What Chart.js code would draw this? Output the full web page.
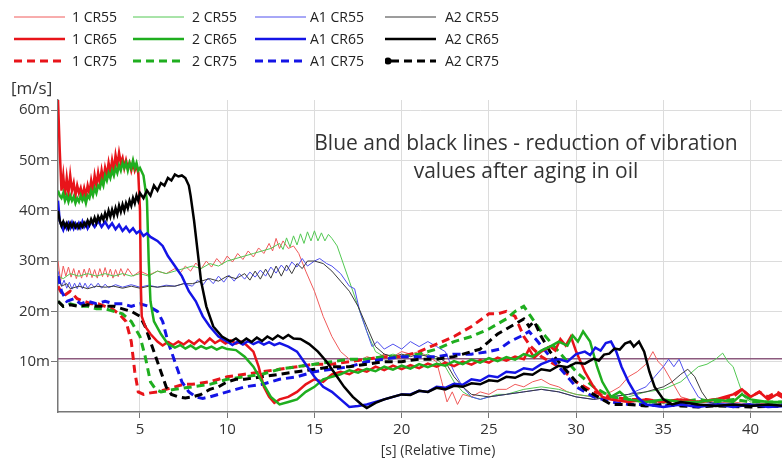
<!DOCTYPE html>
<html>
<head>
<meta charset="utf-8">
<script src="https://cdn.jsdelivr.net/npm/chart.js@4/dist/chart.umd.min.js"></script>
<style>
  html, body { margin: 0; padding: 0; background: #fff; }
  #wrap { position: relative; width: 782px; height: 462px; overflow: hidden; font-family: "Open Sans", sans-serif; color: #333; }
  #chart { position: absolute; left: 0; top: 0; }
  .lg { position: absolute; font-size: 14px; line-height: 16px; white-space: nowrap; color: #222; }
  .lbl { position: absolute; white-space: nowrap; }
  #note { position: absolute; left: 276px; top: 128px; width: 500px; text-align: center; font-size: 21px; line-height: 28px; color: #333; }
</style>
</head>
<body>
<div id="wrap">
  <canvas id="chart" width="782" height="462"></canvas>
  <div id="legend"></div>
  <div class="lbl" style="left:11px; top:76px; font-size:17px;">[m/s]</div>
  <div class="lbl" style="left:338px; top:440px; width:200px; text-align:center; font-size:14px;">[s] (Relative Time)</div>
  <div id="note">Blue and black lines - reduction of vibration<br>values after aging in oil</div>
</div>
<script>
const xTicks = [5, 10, 15, 20, 25, 30, 35, 40];
const yTicks = [10, 20, 30, 40, 50, 60];
const refLevel = 10.6;

// [time s, velocity mm/s]
const r55 = [[0.3,30],[0.45,26],[0.6,29],[0.75,27],[0.9,28.8],[1.05,26.8],[1.2,28.5],[1.35,26.5],[1.5,28.2],[1.65,26.6],[1.8,28.4],[1.95,26.8],[2.1,28.6],[2.25,26.7],[2.4,28.3],[2.55,26.6],[2.7,28.5],[2.85,26.9],[3.0,28.7],[3.15,26.8],[3.3,28.4],[3.45,26.6],[3.6,28.3],[3.75,26.9],[3.9,28.5],[4.1,27],[4.3,28.5],[4.6,27],[5.0,28],[5.5,27.2],[6,28],[6.5,27.5],[7,28.5],[7.3,27.6],[7.6,29],[7.9,28],[8.2,29.6],[8.5,28.4],[8.8,30],[9.1,28.8],[9.4,30.5],[9.7,29.3],[10,31],[10.3,29.8],[10.6,31.5],[10.9,30.3],[11.2,32],[11.5,30.8],[11.8,32.6],[12.1,31.5],[12.4,33.5],[12.6,32],[12.8,34.5],[13.0,32.5],[13.2,34],[13.5,32.5],[13.8,33],[14.1,31.5],[14.5,28],[15,24],[15.5,19],[16,15],[16.5,12],[17,10.5],[17.5,10],[18,11],[18.5,10.5],[19,11.5],[19.5,11],[20,12],[20.5,11.5],[21,12],[21.5,11],[22,10],[22.3,6],[22.6,2],[22.9,4],[23.2,1.5],[23.5,3.5],[24,3],[24.5,4],[25,3.5],[25.5,4.5],[26,4.5],[26.5,5.5],[27,5],[27.5,6],[28,6.5],[28.5,5.5],[29,5],[29.5,4],[30,3.5],[31,3],[32,4],[32.5,5],[33,7],[33.5,8],[34,9.5],[34.4,12],[34.7,10],[35,9],[35.5,6],[36,3],[36.5,2.5],[37,2],[38,1.8],[39,2],[40,1.5],[41,1.8],[42,1.5]];
const g55 = [[0.3,27],[0.6,26.5],[1,27.5],[1.5,27],[2,27.5],[2.5,27],[3,27.5],[3.5,27],[4,27.5],[4.5,27],[5,27.5],[5.5,27],[6,28],[6.5,27.5],[7,28],[7.5,28.5],[8,29],[8.5,28.5],[9,29.5],[9.5,29],[10,30],[10.5,30.5],[11,31],[11.5,31.5],[12,32],[12.5,32.5],[13,33.5],[13.2,32.3],[13.4,34.6],[13.6,32.8],[13.8,35],[14.0,33.2],[14.2,35.4],[14.4,33.5],[14.6,35.8],[14.8,34],[15.0,36],[15.2,34],[15.4,35.6],[15.6,34],[15.8,35.3],[16,34.5],[16.3,33],[16.6,30],[17,26],[17.5,21],[18,16],[18.5,12],[19,11],[19.5,11.5],[20,11],[20.5,11.5],[21,11],[21.5,11.5],[22,10.5],[22.5,9],[23,6],[23.5,4],[24,3],[24.5,2.5],[25,3],[25.5,3.5],[26,3.5],[27,4.5],[28,5],[29,4.5],[30,3.5],[31,3],[32,2.5],[33,3],[34,4],[35,4.5],[36,6],[36.5,7.5],[37,9],[37.5,9.5],[38,10.5],[38.4,11.7],[38.7,10],[39,9],[39.3,6],[39.6,3],[40,2],[41,1.8],[42,1.5]];
const b55 = [[0.3,28],[0.5,25],[0.65,26.2],[0.8,24.6],[0.95,25.8],[1.1,24.4],[1.25,25.6],[1.4,24.5],[1.55,25.7],[1.7,24.5],[1.85,25.6],[2.0,24.6],[2.2,25.5],[2.4,24.7],[2.6,25.6],[2.8,24.6],[3.0,25.4],[3.2,24.7],[3.6,25.3],[4,24.8],[4.5,25.3],[5,24.8],[5.5,25.2],[6,24.8],[6.5,25.2],[7,25],[7.5,25.5],[8,25],[8.3,26.2],[8.6,25.2],[8.9,26.6],[9.2,25.5],[9.5,27],[9.8,25.8],[10.1,27.2],[10.4,26],[10.7,27.5],[11,26.4],[11.3,27.8],[11.6,26.8],[11.9,28.2],[12.2,27],[12.5,28.8],[12.8,27.6],[13.1,29.2],[13.4,28],[13.7,29.8],[14,28.8],[14.3,30.5],[14.6,29],[15,30],[15.3,30.5],[15.7,29.5],[16,29],[16.5,27.5],[17,25],[17.3,24.5],[17.6,20],[18,16],[18.3,13],[18.6,14],[19,12.5],[19.5,13.5],[20,12.5],[20.5,14],[21,13],[21.5,14],[22,13],[22.5,12],[23,8],[23.5,5],[24,3],[24.5,2.5],[25,3],[26,3.5],[27,4],[28,4.5],[29,4],[30,3],[31,2.5],[32,3],[33,3.5],[34,5],[34.5,7],[35,9],[35.3,10.5],[35.6,9],[35.9,10.5],[36.2,8],[36.5,6],[37,3],[37.5,2],[38,1.8],[40,1.5],[42,1.5]];
const k55 = [[0.3,27],[0.5,25],[0.8,25.5],[1,24.5],[1.5,25],[2,24.5],[2.5,25],[3,24.8],[3.5,25],[4,24.6],[4.5,25],[5,24.6],[5.5,25],[6,24.8],[6.5,25],[7,25],[7.5,25.5],[8,25.5],[8.5,26],[9,26.5],[9.5,26],[10,27],[10.5,26.5],[11,27.5],[11.3,26.2],[11.6,28],[11.9,26.4],[12.2,28.4],[12.5,26.6],[12.8,29],[13.1,27],[13.4,29.2],[13.7,27.5],[14,29.5],[14.3,28.5],[14.6,30],[15,30],[15.5,29.5],[16,28],[16.5,26],[17,24],[17.5,21],[18,17],[18.5,13],[19,11.5],[19.5,11],[20,11.5],[20.5,11],[21,11.5],[21.5,11],[22,11],[22.5,10],[23,7],[23.5,5],[24,3.5],[25,3],[26,3.5],[27,4],[28,4.5],[29,4],[30,3],[31,2.5],[32,3],[33,3.5],[34,4],[35,5],[35.5,6],[36,7.5],[36.4,8.5],[36.8,7],[37.2,4],[37.6,2],[38,1.5],[40,1.2],[42,1.2]];

const r65 = [[0.3,62],[0.4,52],[0.5,44],[0.6,47],[0.7,43],[0.8,46.5],[0.9,43.5],[1.0,47],[1.1,44],[1.2,45.5],[1.3,43],[1.4,45],[1.5,43.5],[1.6,44.5],[1.7,42.8],[1.8,44.5],[1.9,43],[2.0,45],[2.1,43.5],[2.2,46],[2.3,44],[2.4,47],[2.5,45],[2.6,47.5],[2.7,45.5],[2.8,48],[2.9,46],[3.0,48.5],[3.1,47],[3.2,49.5],[3.3,47.5],[3.4,50],[3.5,48],[3.6,51],[3.7,49],[3.8,51.5],[3.9,49.5],[4.0,50.5],[4.1,48.5],[4.2,50],[4.3,48.5],[4.4,49.5],[4.5,48],[4.6,49.5],[4.7,48],[4.8,49],[4.9,47.5],[5.0,40],[5.05,25],[5.1,19],[5.3,17],[5.6,15.5],[6,14],[6.3,13.2],[6.6,13.9],[6.9,13.3],[7.2,14],[7.5,13.4],[7.8,14.2],[8.1,13.5],[8.4,14.4],[8.7,13.6],[9,14.6],[9.3,13.7],[9.6,14.3],[9.9,13.6],[10.2,14.2],[10.5,13.6],[10.8,14],[11.1,13.3],[11.5,12],[11.8,9],[12.1,5],[12.4,3],[12.7,1.8],[13,2.5],[13.5,3],[14,4],[14.5,5.5],[15,6.5],[15.5,6],[16,7.5],[16.5,8],[17,7.5],[17.5,8.5],[18,8],[18.5,9],[19,8.3],[19.5,9.2],[20,8.5],[20.5,9.3],[21,8.7],[21.5,9.6],[22,9],[22.5,9.8],[23,9.1],[23.5,10],[24,9.4],[24.5,10.3],[25,9.8],[25.5,10.8],[26,10.2],[26.5,11],[27,10.5],[27.3,12.5],[27.6,10.8],[28,12],[28.5,13],[28.8,12.2],[29.1,14.5],[29.4,13.2],[29.7,15],[30,12],[30.5,8],[31,5],[31.5,3],[32,2.5],[33,2],[34,2.5],[35,2],[36,2.5],[37,2],[38,2.5],[39,3.5],[39.5,4.5],[40,3],[40.5,4],[41,2.5],[41.5,3.5],[42,2.5]];
const g65 = [[0.3,44],[0.4,43],[0.5,42.5],[0.6,43.5],[0.7,42],[0.8,43],[0.9,41.8],[1.0,43],[1.1,42],[1.2,42.8],[1.3,41.5],[1.4,42.5],[1.5,41.8],[1.6,43],[1.7,42],[1.8,42.8],[1.9,41.5],[2.0,43],[2.1,42.5],[2.2,44],[2.3,43],[2.4,44.5],[2.5,43.5],[2.6,45],[2.7,44.5],[2.8,46],[2.9,45],[3.0,47],[3.1,46],[3.2,47.5],[3.3,46.5],[3.4,48],[3.5,47],[3.6,48.5],[3.7,47.5],[3.8,49],[3.9,48],[4.0,49.5],[4.1,48.5],[4.2,49.5],[4.3,48],[4.4,49.5],[4.5,48.5],[4.6,50],[4.7,48.5],[4.8,49.5],[4.9,48],[5.0,48.5],[5.2,47],[5.4,42],[5.5,30],[5.6,22],[5.8,18],[6.2,15.5],[6.6,13.5],[7,12.8],[7.3,13.3],[7.6,12.6],[7.9,13.2],[8.2,12.5],[8.5,13.1],[8.8,12.6],[9.1,13],[9.4,12.4],[9.7,12.9],[10,12.5],[10.5,12.3],[11,11],[11.5,9],[12,6],[12.5,3],[13,1.5],[13.5,2],[14,2.5],[14.5,4],[15,5],[15.5,6.5],[16,7],[16.5,7.5],[17,8.3],[17.5,7.8],[18,8.6],[18.5,8.1],[19,9],[19.5,8.4],[20,9.2],[20.5,8.6],[21,9.5],[21.5,8.9],[22,9.6],[22.5,9.2],[23,10.1],[23.5,9.5],[24,10.4],[24.5,9.8],[25,10.7],[25.5,10.1],[26,10.9],[26.5,10.4],[27,11.5],[27.5,11],[28,12.2],[28.5,13],[29,14],[29.5,13.2],[29.8,15.2],[30.1,14],[30.4,16],[30.8,14],[31.2,9],[31.5,6],[32,3],[32.5,4],[33,2.5],[34,2],[35,2.5],[36,2],[37,2],[38,2.5],[39,2],[39.5,3.5],[40,2.5],[41,2],[42,2]];
const b65 = [[0.3,42],[0.4,38],[0.5,37],[0.6,36.2],[0.7,37.3],[0.8,36.5],[0.9,37.5],[1.0,36.6],[1.1,37.6],[1.2,36.5],[1.3,37.4],[1.4,36.6],[1.5,37.5],[1.6,36.7],[1.7,37.8],[1.8,36.8],[1.9,37.5],[2.0,36.5],[2.2,37.8],[2.4,36.8],[2.6,38],[2.8,36.8],[3.0,37.8],[3.2,36.6],[3.4,37.5],[3.6,36.3],[3.8,37.2],[4.0,36],[4.2,36.8],[4.4,35.8],[4.6,36.5],[4.8,35.5],[5.0,36],[5.2,35],[5.4,35.5],[5.6,34.8],[6,34],[6.3,33],[6.6,31],[7,29],[7.4,27],[7.8,24],[8.2,22],[8.6,19],[9,17],[9.5,15],[10,14],[10.3,13.3],[10.6,14],[10.9,13.4],[11.2,14.1],[11.5,13.5],[11.8,14],[12.1,13.4],[12.4,13.9],[12.7,13.3],[13,13.7],[13.5,13],[14,12],[14.5,9.5],[15,7],[15.5,5],[16,4],[16.5,2.5],[17,1],[17.5,1.2],[18,1.5],[18.5,2],[19,2.5],[19.5,3],[20,3.5],[20.5,3.5],[21,4.2],[21.5,4],[22,5],[22.5,4.8],[23,5.6],[23.5,5.4],[24,6.5],[24.5,6.2],[25,7.2],[25.5,6.9],[26,8],[26.5,7.8],[27,8.7],[27.5,8.4],[28,9.5],[28.5,10.2],[29,10.5],[29.5,10],[30,11.5],[30.5,12],[30.8,11.3],[31.1,12.8],[31.4,12.2],[31.7,13.7],[32,14],[32.3,12],[32.6,9],[33,6],[33.5,3],[34,1.5],[35,1],[36,1.5],[37,1],[38,1.5],[39,1],[40,1.5],[41,1],[42,1.2]];
const k65 = [[0.3,40],[0.4,38],[0.5,37],[0.6,37.8],[0.7,36.8],[0.8,37.5],[0.9,36.5],[1.0,37.5],[1.1,36.8],[1.2,37.5],[1.3,36.7],[1.4,37.3],[1.5,36.6],[1.6,37.4],[1.7,36.8],[1.8,37.6],[1.9,37],[2.0,38],[2.1,37.2],[2.2,38.3],[2.3,37.5],[2.4,38.6],[2.5,37.6],[2.6,38.8],[2.7,38],[2.8,39],[2.9,38.2],[3.0,39.5],[3.1,38.5],[3.2,40],[3.3,38.8],[3.4,40.2],[3.5,39],[3.6,40.5],[3.7,39.3],[3.8,41],[3.9,39.8],[4.0,41.2],[4.1,40],[4.2,41.5],[4.3,40.5],[4.4,42],[4.5,41],[4.6,42.5],[4.7,41.5],[4.8,43],[4.9,42],[5.0,43.5],[5.2,42.5],[5.4,44],[5.6,43],[5.8,45],[6.0,44],[6.2,45.5],[6.4,45],[6.6,46.5],[6.8,46],[7.0,47.2],[7.2,46.8],[7.4,47],[7.6,46.5],[7.8,45],[7.9,43],[8.1,38],[8.3,32],[8.5,26],[8.8,21],[9.2,17],[9.7,15],[10.2,14],[10.5,14.6],[10.8,13.8],[11.1,14.6],[11.4,13.9],[11.7,14.8],[12,14.1],[12.3,15],[12.6,14.4],[12.9,15.2],[13.2,14.6],[13.5,15.3],[13.8,14.6],[14.2,14.5],[14.7,13.5],[15.2,12],[15.7,10],[16.2,7.5],[16.7,5],[17.2,3],[17.7,1.5],[18,0.8],[18.5,1.8],[19,2.5],[19.5,3],[20,3.5],[20.5,3.4],[21,4.2],[21.5,4],[22,4.8],[22.5,4.5],[23,5.2],[23.5,5],[24,5.7],[24.5,5.5],[25,6.3],[25.5,6.1],[26,7],[26.5,6.8],[27,7.6],[27.5,7.4],[28,8.5],[28.5,8.2],[29,9.2],[29.5,8.9],[30,9.8],[30.5,9.6],[31,10.6],[31.3,10.2],[31.6,11.4],[31.9,11.6],[32.2,12.6],[32.5,12.4],[32.8,13.6],[33.1,14],[33.3,13],[33.6,14],[33.9,12],[34.2,8],[34.5,5],[35,2.5],[35.5,1.5],[36,2],[37,1.5],[38,1.2],[39,1.5],[40,1.2],[41,1.5],[42,1.2]];

const r75 = [[0.3,25],[0.6,23],[1,24],[1.4,22.5],[1.8,22],[2.2,21.5],[2.6,21.5],[3,21],[3.4,20.5],[3.8,19.5],[4.2,18],[4.5,14],[4.7,8],[4.9,4],[5.2,3.5],[5.6,3.8],[6,4],[6.5,4.5],[7,5],[7.5,5.5],[8,5.5],[9,6],[10,7],[11,7.5],[12,8],[13,8.5],[14,9],[15,9.5],[16,9.5],[17,10],[18,10.5],[19,11],[20,11],[21,12],[22,13.5],[23,15],[24,17],[25,19.5],[25.5,19.5],[26,20],[26.5,19],[27,15],[27.4,13],[28,11],[29,9],[30,6],[31,4],[32,3],[33,2.5],[34,2.5],[35,2],[36,2.5],[37,2],[38,2.5],[39,3],[39.5,4.5],[40,3],[40.5,4],[41,3],[41.5,4],[42,3]];
const g75 = [[0.3,22],[0.6,21],[1,21.5],[1.5,21],[2,21],[2.5,20.5],[3,20.5],[3.5,20],[4,19.5],[4.5,18],[5,15],[5.3,11],[5.6,6],[5.9,4.5],[6.2,4],[6.5,4.2],[7,4.5],[8,5],[9,5.5],[10,6.5],[11,7],[12,7.5],[13,8.5],[14,9],[15,9.5],[16,10],[17,10.5],[18,10.5],[19,11],[20,11],[21,11.5],[22,12.5],[23,14],[24,15],[25,16.5],[26,18.5],[26.5,20],[27,21],[27.4,19],[28,16],[28.5,14],[29,12],[30,8],[31,5],[32,3],[33,2.5],[34,2],[35,2],[36,2],[37,2.5],[38,2],[39,2.5],[40,2],[41,2],[42,2]];
const b75 = [[0.3,27],[0.5,24],[0.8,22],[1.2,22.5],[1.6,21.5],[2,22],[2.5,21.5],[3,22],[3.5,21.5],[4,21.5],[4.5,21],[5,21.5],[5.5,21],[6,20],[6.3,18],[6.6,14],[7,10],[7.4,6],[7.8,4],[8.2,3],[8.6,2.7],[9,3],[9.5,3.5],[10,4],[10.5,4.5],[11,5],[12,5.5],[13,6.5],[14,7],[15,8],[16,8.5],[17,9],[18,10],[19,10.5],[20,11],[21,11],[22,11],[23,11.5],[24,11.5],[25,12],[25.6,12.5],[26.2,14],[26.8,15],[27.3,16],[27.8,14],[28.5,11],[29,9],[29.5,7],[30,5],[31,3],[32,2],[33,1.5],[34,1.5],[35,1.2],[36,1.5],[37,1.2],[38,1.5],[39,1.2],[40,1.5],[41,1.2],[42,1.5]];
const k75 = [[0.3,22],[0.6,21],[1,21.3],[1.5,21],[2,21.3],[2.5,21],[3,21],[3.5,21],[4,20.5],[4.5,20],[5,19],[5.3,17],[5.6,14],[5.9,11],[6.2,8],[6.5,5],[6.8,3.5],[7.2,3],[7.6,2.8],[8,3],[8.5,3.5],[9,4.5],[9.5,5],[10,6],[10.5,6.5],[11,6.5],[12,7],[13,7.5],[14,8],[15,8.5],[16,9],[17,9],[18,9.5],[19,10],[20,10],[21,10.5],[22,10.5],[23,11],[24,12],[24.5,12.5],[25,14],[25.5,15.5],[26,16.5],[26.5,17.5],[27,18.5],[27.3,17],[27.6,18],[28,15],[28.5,12],[29,10],[29.5,8],[30,6],[30.5,4.5],[31,3.5],[31.5,2.5],[32,1.5],[33,1.5],[34,1.2],[35,1.5],[36,1.2],[37,1],[38,1.2],[40,1],[42,1.2]];

const RED = '#e8141a', GREEN = '#1fae1f', BLUE = '#1414e6', BLACK = '#000000';

// legend order: row by row, 4 columns
const series = [
  { name: '1 CR55', data: r55, color: '#f05a5a', width: 1, dash: [], order: 12 },
  { name: '2 CR55', data: g55, color: '#52c852', width: 1, dash: [], order: 11 },
  { name: 'A1 CR55', data: b55, color: '#5050ee', width: 1, dash: [], order: 10 },
  { name: 'A2 CR55', data: k55, color: '#3a3a3a', width: 1, dash: [], order: 9 },
  { name: '1 CR65', data: r65, color: RED, width: 2.5, dash: [], order: 4 },
  { name: '2 CR65', data: g65, color: GREEN, width: 2.5, dash: [], order: 3 },
  { name: 'A1 CR65', data: b65, color: BLUE, width: 2.5, dash: [], order: 2 },
  { name: 'A2 CR65', data: k65, color: BLACK, width: 2.5, dash: [], order: 1 },
  { name: '1 CR75', data: r75, color: RED, width: 3, dash: [8, 5], order: 8 },
  { name: '2 CR75', data: g75, color: GREEN, width: 3, dash: [8, 5], order: 7 },
  { name: 'A1 CR75', data: b75, color: BLUE, width: 3, dash: [8, 5], order: 6 },
  { name: 'A2 CR75', data: k75, color: BLACK, width: 3, dash: [8, 5], order: 5, marker: true },
];

function buildLegend() {
  const wrapEl = document.getElementById('wrap');
  const legendEl = document.getElementById('legend');
  const lineX = [14, 133, 255, 385];
  const textX = [72, 192, 310, 445];
  const rowY = [17, 39, 61];
  series.forEach((s, idx) => {
    const col = idx % 4;
    const row = Math.floor(idx / 4);
    const sample = document.createElementNS('http://www.w3.org/2000/svg', 'svg');
    sample.setAttribute('width', 54);
    sample.setAttribute('height', 10);
    sample.style.position = 'absolute';
    sample.style.left = `${lineX[col]}px`;
    sample.style.top = `${rowY[row] - 5}px`;
    const line = document.createElementNS('http://www.w3.org/2000/svg', 'line');
    line.setAttribute('x1', s.marker ? 6 : 0);
    line.setAttribute('x2', 51);
    line.setAttribute('y1', 5);
    line.setAttribute('y2', 5);
    line.setAttribute('stroke', s.color);
    line.setAttribute('stroke-width', s.width);
    if (s.dash.length) line.setAttribute('stroke-dasharray', s.dash.join(' '));
    sample.appendChild(line);
    if (s.marker) {
      const dot = document.createElementNS('http://www.w3.org/2000/svg', 'circle');
      dot.setAttribute('cx', 3);
      dot.setAttribute('cy', 5);
      dot.setAttribute('r', 3.5);
      dot.setAttribute('fill', '#000');
      sample.appendChild(dot);
    }
    wrapEl.appendChild(sample);
    const label = document.createElement('div');
    label.className = 'lg';
    label.textContent = s.name;
    label.style.left = `${textX[col]}px`;
    label.style.top = `${rowY[row] - 8}px`;
    legendEl.appendChild(label);
  });
}

function toPoints(arr) {
  return arr.map((p) => ({ x: p[0], y: p[1] }));
}

const datasets = series.map((s) => ({
  label: s.name,
  data: toPoints(s.data),
  borderColor: s.color,
  backgroundColor: s.color,
  borderWidth: s.width,
  borderDash: s.dash,
  pointRadius: 0,
  tension: 0,
  order: s.order,
}));

datasets.push({
  label: 'limit',
  data: [{ x: 0, y: refLevel }, { x: 45, y: refLevel }],
  borderColor: '#8c5a7e',
  borderWidth: 1.5,
  pointRadius: 0,
  order: 20,
});

buildLegend();

new Chart(document.getElementById('chart'), {
  type: 'line',
  data: { datasets },
  options: {
    responsive: false,
    animation: false,
    devicePixelRatio: 1,
    layout: { padding: { top: 100, right: 0, left: 0, bottom: 0 } },
    plugins: { legend: { display: false }, tooltip: { enabled: false } },
    scales: {
      x: {
        type: 'linear',
        min: 0.3,
        max: 41.8,
        afterBuildTicks(scale) { scale.ticks = xTicks.map((v) => ({ value: v })); },
        afterFit(scale) { scale.height = 50; },
        grid: { color: '#dcdcdc', tickColor: '#777', tickLength: 6, lineWidth: 1 },
        border: { color: '#777', width: 1.5 },
        ticks: { color: '#333', font: { family: 'Open Sans', size: 15 }, padding: 3, maxRotation: 0 },
      },
      y: {
        min: 0,
        max: 62,
        afterBuildTicks(scale) { scale.ticks = yTicks.map((v) => ({ value: v })); },
        afterFit(scale) { scale.width = 58; },
        grid: { color: '#dcdcdc', tickColor: '#777', tickLength: 7, lineWidth: 1 },
        border: { color: '#777', width: 1.5 },
        ticks: {
          color: '#333',
          font: { family: 'Open Sans', size: 15 },
          padding: 1,
          callback(value) { return `${value}m`; },
        },
      },
    },
  },
});
</script>
</body>
</html>
